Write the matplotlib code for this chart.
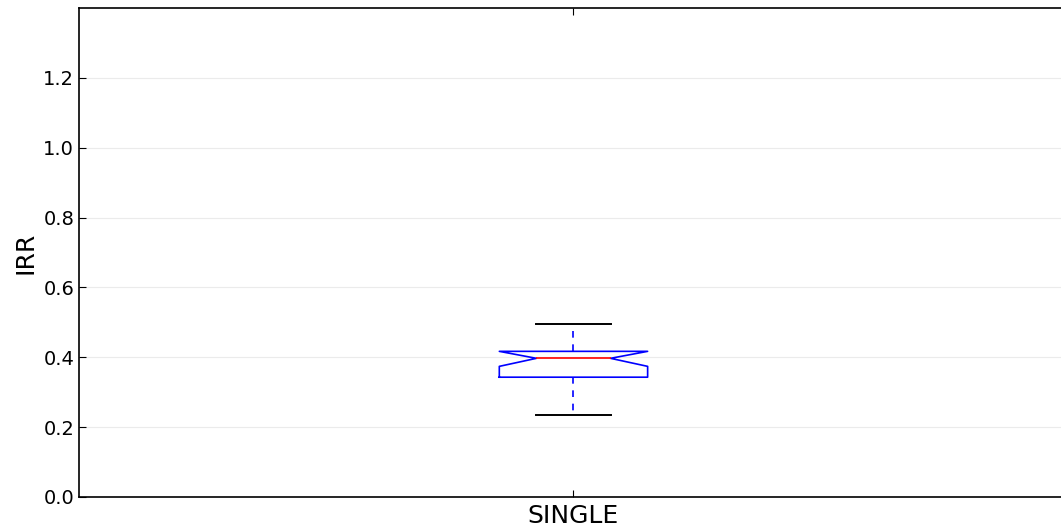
import matplotlib
matplotlib.use("Agg")
import matplotlib.pyplot as plt

# box statistics
labels = ["SINGLE"]
whislo = [0.235]
q1 = [0.343]
med = [0.397]
q3 = [0.417]
whishi = [0.495]
cilo = [0.374]
cihi = [0.417]

stats = []
for i in range(len(labels)):
    stats.append(dict(label=labels[i], whislo=whislo[i], q1=q1[i], med=med[i],
                      q3=q3[i], whishi=whishi[i], cilo=cilo[i], cihi=cihi[i],
                      fliers=[]))

fig = plt.figure(figsize=(10.61, 5.29), dpi=100)
ax = fig.add_axes([0.0745, 0.0605, 0.932, 0.9244])

ax.bxp(stats, widths=0.15, shownotches=True, capwidths=0.075,
       boxprops=dict(color="blue", linewidth=1.2),
       whiskerprops=dict(color="blue", linestyle=(0, (4, 4)), linewidth=1.2),
       capprops=dict(color="black", linewidth=1.4),
       medianprops=dict(color="red", linewidth=1.2))

ax.set_xlim(0.5, 1.5)
ax.set_ylim(0, 1.4)
ax.set_yticks([0.0, 0.2, 0.4, 0.6, 0.8, 1.0, 1.2])
ax.yaxis.grid(True, color="#ebebeb", linewidth=0.8)
ax.set_axisbelow(True)
ax.set_ylabel("IRR", fontsize=18)
ax.tick_params(axis="y", labelsize=14, direction="in", right=True, length=5)
ax.tick_params(axis="x", labelsize=18, direction="in", top=True, length=5, pad=5)
for s in ax.spines.values():
    s.set_linewidth(1.2)

fig.savefig("out.png", dpi=100)
